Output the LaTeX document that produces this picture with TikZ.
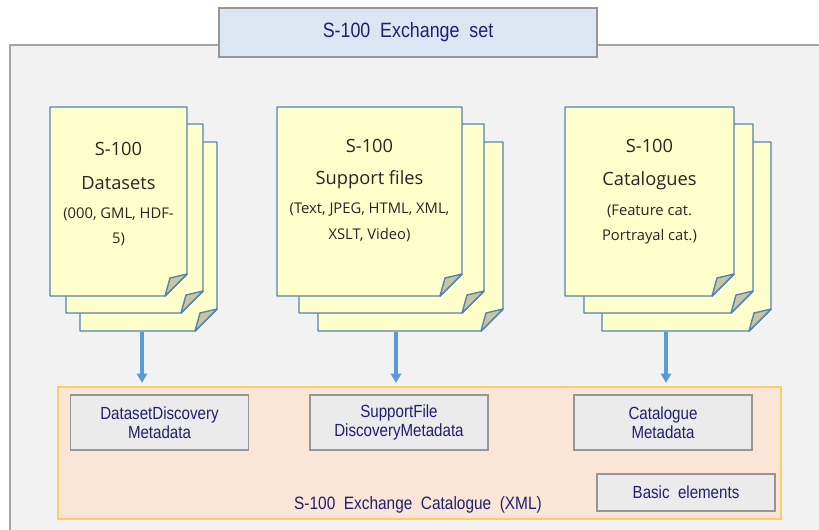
\documentclass[tikz,border=0pt]{standalone}
\usepackage{fontspec}
\setmainfont{Open Sans}
\newfontfamily\boxfont[FakeStretch=0.86,WordSpace=2]{Liberation Sans}
\usetikzlibrary{arrows.meta}

\definecolor{setgrey}{RGB}{242,242,242}
\definecolor{setline}{RGB}{165,165,165}
\definecolor{titlefill}{RGB}{220,230,242}
\definecolor{pagefill}{RGB}{255,255,204}
\definecolor{pageline}{RGB}{84,130,180}
\definecolor{foldfill}{RGB}{200,198,160}
\definecolor{catfill}{RGB}{251,229,214}
\definecolor{catline}{RGB}{255,204,102}
\definecolor{mdfill}{RGB}{235,235,235}
\definecolor{mdline}{RGB}{150,150,150}
\definecolor{navytext}{RGB}{32,32,110}
\definecolor{doctext}{RGB}{38,38,38}
\definecolor{arrowblue}{RGB}{91,155,213}

\tikzset{
  docpage/.style={draw=pageline, fill=pagefill, line width=0.8pt, line join=round},
  docfold/.style={draw=pageline, fill=foldfill, line width=0.8pt, line join=round},
  docbig/.style={text=doctext, font=\fontsize{10.4}{12}\selectfont},
  docsmall/.style={text=doctext, font=\fontsize{8.4}{10}\selectfont},
  mdbox/.style={draw=mdline, fill=mdfill, line width=1pt, text=navytext,
    font=\boxfont\fontsize{10}{11}\selectfont, align=center,
    minimum width=3.56cm, minimum height=1.1cm, inner sep=0pt},
  feed/.style={draw=arrowblue, line width=2.2pt, -{Triangle[width=5.8pt,length=5.4pt]}}
}

% one sheet of a stack: x, y (top left), width, height
\newcommand{\docpage}[4]{%
  \draw[docpage] (#1,#2) -- ++(#3,0) -- ++(0,#4-22) -- ++(-22,22) -- ++(-#3+22,0) -- cycle;
  \draw[docfold] (#1+#3,#2+#4-22) -- ++(-17,4) -- ++(-5,18) -- cycle;
}

\begin{document}
\begin{tikzpicture}[x=0.02cm, y=-0.02cm]
  \useasboundingbox (0,0) rectangle (819,529);

  % exchange set frame
  \draw[setline, fill=setgrey, line width=0.8pt] (10,45) rectangle (832,545);
  \node[draw=mdline, fill=titlefill, line width=0.8pt, text=navytext,
    font=\boxfont\fontsize{11.8}{13}\selectfont,
    minimum width=7.56cm, minimum height=0.98cm, inner sep=0pt]
    (exset) at (408,32.5) {S-100 Exchange set};

  % stacks of files
  \foreach \x/\y in {80/142, 66/124, 50/107} {\docpage{\x}{\y}{137}{189}}
  \foreach \x/\y in {318/142, 299/124, 277/107} {\docpage{\x}{\y}{185}{189}}
  \foreach \x/\y in {602/142, 584/124, 565/107} {\docpage{\x}{\y}{169}{189}}

  \node[docbig] (dsnum) at (118.5,149) {S-100};
  \node[docbig] (dsname) at (118.5,183) {Datasets};
  \node[docsmall] (dsfmt) at (118.5,214) {(000, GML, HDF-};
  \node[docsmall] (dsfmtb) at (118.5,239) {5)};

  \node[docbig] (sfnum) at (369.5,146) {S-100};
  \node[docbig] (sfname) at (369.5,180) {Support files};
  \node[docsmall] (sffmt) at (369.5,210) {(Text, JPEG, HTML, XML,};
  \node[docsmall] (sffmtb) at (369.5,235) {XSLT, Video)};

  \node[docbig] (ctnum) at (649.5,146) {S-100};
  \node[docbig] (ctname) at (649.5,181) {Catalogues};
  \node[docsmall] (ctfmt) at (649.5,211) {(Feature cat.};
  \node[docsmall] (ctfmtb) at (649.5,237) {Portrayal cat.)};

  % exchange catalogue
  \draw[catline, fill=catfill, line width=1.1pt] (58,387) rectangle (781,519);
  \node[text=navytext, font=\boxfont\fontsize{10.2}{12}\selectfont]
    (catname) at (418,505) {S-100 Exchange Catalogue (XML)};

  \node[mdbox] (dsmeta) at (159.5,422.5) {DatasetDiscovery\\Metadata};
  \node[mdbox] (sfmeta) at (399,422.5) {SupportFile\\DiscoveryMetadata};
  \node[mdbox] (ctmeta) at (663,422.5) {Catalogue\\Metadata};
  \node[mdbox, minimum height=0.74cm] (basic) at (686,492.5) {Basic elements};

  % arrows into the catalogue
  \coordinate (dsout) at (142,332);
  \coordinate (dsin) at (142,383);
  \coordinate (sfout) at (396,332);
  \coordinate (sfin) at (396,383);
  \coordinate (ctout) at (666,332);
  \coordinate (ctin) at (666,383);
  \draw[feed] (dsout) -- (dsin);
  \draw[feed] (sfout) -- (sfin);
  \draw[feed] (ctout) -- (ctin);
\end{tikzpicture}
\end{document}
